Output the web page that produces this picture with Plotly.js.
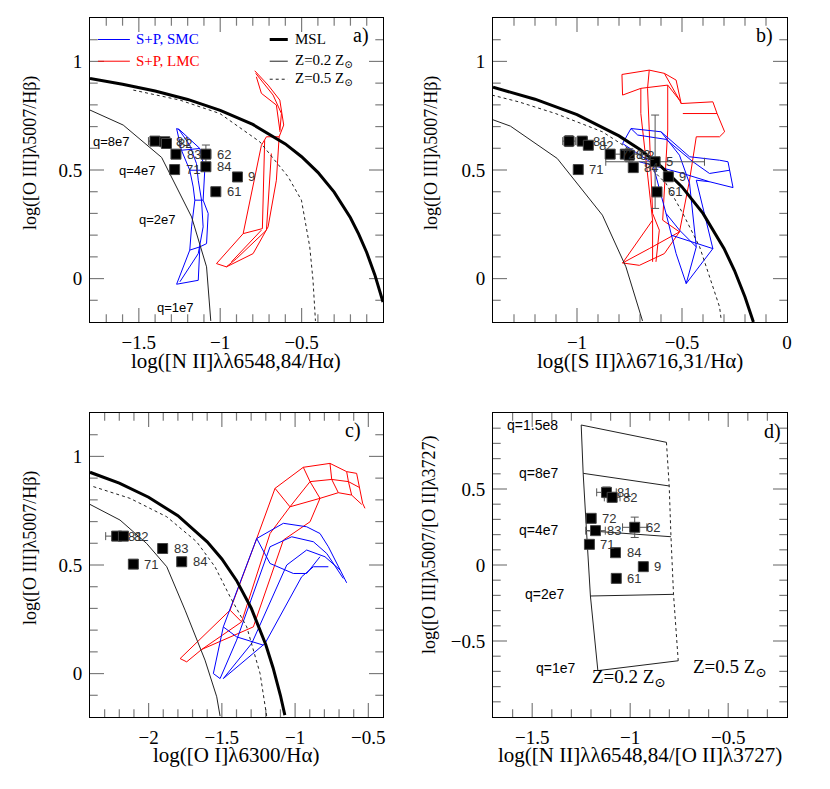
<!DOCTYPE html>
<html><head><meta charset="utf-8">
<script src="https://cdn.plot.ly/plotly-3.0.1.min.js"></script>
<style>html,body{margin:0;padding:0;background:#fff}#chart{width:830px;height:789px}</style>
</head><body><div id="chart"></div>
<script>
// ---------------- DATA ----------------
const ptsA_x = [-1.401,-1.340,-1.330,-1.272,-1.088,-1.280,-1.088,-0.894,-1.027];
const ptsA_y = [0.633,0.630,0.622,0.573,0.573,0.502,0.515,0.468,0.400];
const ptsA_xerr = [0.04,0.02,0.02,0.012,0.03,0.012,0.015,0.012,0.01];
const ptsA_yerr = [0.015,0.015,0.015,0.012,0.042,0.01,0.012,0.012,0.01];
const labA = ["","81","82","83","62","71","84","9","61"];

const ptsB_x = [-1.038,-0.975,-0.946,-0.842,-0.770,-0.751,-0.994,-0.732,-0.628,-0.565,-0.619];
const ptsB_y = [0.633,0.633,0.614,0.573,0.573,0.568,0.502,0.511,0.538,0.469,0.399];
const ptsB_xerr = [0.03,0.025,0.01,0.02,0.07,0.02,0.01,0.015,0.235,0.015,0.015];
const ptsB_yerr = [0.025,0.02,0.01,0.015,0.015,0.03,0.01,0.015,0.215,0.015,0.015];
const labB = ["","81","82","72","83","62","71","84","5","9","61"];

const ptsC_x = [-2.218,-2.172,-1.904,-2.104,-1.774];
const ptsC_y = [0.633,0.633,0.576,0.504,0.515];
const ptsC_xerr = [0.075,0.03,0.015,0.01,0.015];
const ptsC_yerr = [0.02,0.015,0.012,0.01,0.01];
const labC = ["81","82","83","71","84"];

const ptsD_x = [-1.121,-1.092,-1.199,-1.177,-0.977,-1.208,-1.075,-0.933,-1.071];
const ptsD_y = [0.478,0.445,0.307,0.226,0.248,0.136,0.081,-0.011,-0.088];
const ptsD_xerr = [0.05,0.04,0.02,0.05,0.062,0.02,0.015,0.02,0.015];
const ptsD_yerr = [0.035,0.02,0.015,0.02,0.067,0.015,0.02,0.015,0.02];
const labD = ["81","82","72","83","62","71","84","9","61"];

// Tick labels
const ticksAx = [-1.5,-1,-0.5], ticksBx = [-1,-0.5,0], ticksCx = [-2,-1.5,-1,-0.5], ticksDx = [-1.5,-1,-0.5];
const ticksY = [0,0.5,1], ticksDy = [-0.5,0,0.5];

// Maximum starburst line (MSL)
const mslA_x = [-1.8,-1.6,-1.4,-1.2,-1.0,-0.8,-0.6,-0.5,-0.4,-0.3,-0.2,-0.15,-0.1,-0.05,0.0];
const mslA_y = [0.921,0.895,0.864,0.825,0.775,0.710,0.620,0.561,0.489,0.398,0.280,0.206,0.120,0.017,-0.108];
const mslB_x = [-1.4,-1.2,-1.0,-0.8,-0.7,-0.6,-0.5,-0.4,-0.3,-0.25,-0.2,-0.16];
const mslB_y = [0.881,0.826,0.755,0.657,0.594,0.517,0.422,0.300,0.139,0.037,-0.085,-0.2];
const mslC_x = [-2.4,-2.2,-2.0,-1.8,-1.6,-1.5,-1.4,-1.3,-1.2,-1.15,-1.1,-1.07];
const mslC_y = [0.927,0.877,0.812,0.727,0.607,0.528,0.429,0.302,0.133,0.026,-0.101,-0.191];

// Photoionisation model grids, Z = 0.2 Zsun (solid) and Z = 0.5 Zsun (dotted)
const z02A_x = [-1.8,-1.596,-1.36,-1.176,-1.084,-1.058];
const z02A_y = [0.776,0.707,0.558,0.284,0.054,-0.195];
const z05A_x = [-1.534,-1.248,-1.002,-0.757,-0.583,-0.501,-0.45,-0.43,-0.415];
const z05A_y = [0.868,0.822,0.760,0.630,0.469,0.361,0.146,-0.008,-0.195];
const z02B_x = [-1.405,-1.317,-1.094,-0.879,-0.767,-0.696,-0.688];
const z02B_y = [0.733,0.702,0.553,0.292,0.054,-0.161,-0.195];
const z05B_x = [-1.405,-1.278,-1.102,-0.879,-0.719,-0.576,-0.496,-0.416,-0.321,-0.313];
const z05B_y = [0.845,0.814,0.760,0.676,0.576,0.438,0.300,0.146,-0.131,-0.192];
const z02C_x = [-2.400,-2.195,-2.013,-1.876,-1.751,-1.615,-1.535,-1.512];
const z02C_y = [0.779,0.707,0.599,0.492,0.292,0.062,-0.107,-0.196];
const z05C_x = [-2.377,-2.127,-1.876,-1.672,-1.547,-1.444,-1.330,-1.239,-1.194];
const z05C_y = [0.861,0.807,0.722,0.607,0.492,0.354,0.215,0.000,-0.196];
const qLabels = ["q=1.5e8","q=8e7","q=4e7","q=2e7","q=1e7"];
const z02D_x = [-1.250,-1.240,-1.223,-1.203,-1.165];
const z02D_y = [0.921,0.603,0.226,-0.204,-0.695];
const z05D_x = [-0.815,-0.801,-0.792,-0.779,-0.755];
const z05D_y = [0.807,0.520,0.186,-0.193,-0.630];

// Shock + photoionisation (S+P) grids, SMC (blue) and LMC (red)
const lmcA_x = [-0.788,-0.706,-0.634,-0.610,-0.638,-0.655,-0.706,-0.798,-0.962,-1.023,-0.859,-0.747,-0.716,-0.638,null,
 -0.782,-0.675,-0.624,-0.634,null,-0.778,-0.747,-0.655,-0.634,null,-0.727,-0.741,-0.859,null,
 -0.686,-0.716,-0.900,-0.962,null,-0.747,-0.931];
const lmcA_y = [0.957,0.891,0.822,0.707,0.653,0.453,0.238,0.115,0.054,0.069,0.207,0.614,0.653,0.653,null,
 0.945,0.845,0.760,0.676,null,0.929,0.853,0.799,0.684,null,0.637,0.230,0.207,null,
 0.576,0.223,0.092,0.054,null,0.223,0.077];
const smcA_x = [-1.268,-1.238,-1.187,-1.166,-1.156,-1.176,-1.187,-1.268,-1.135,-1.125,-1.084,-1.074,-1.105,-1.095,-1.125,-1.248,-1.268,null,
 -1.258,-1.187,-1.146,-1.135,-1.115,-1.105,-1.135,-1.248,null,-1.187,-1.095,null,-1.156,-1.105,null,-1.187,-1.125,null,-1.238,-1.125];
const smcA_y = [0.691,0.591,0.499,0.422,0.361,0.238,0.131,-0.026,-0.008,0.146,0.161,0.300,0.361,0.499,0.599,0.684,0.691,null,
 0.691,0.614,0.530,0.453,0.361,0.238,0.115,-0.015,null,0.499,0.499,null,0.361,0.361,null,0.131,0.146,null,0.591,0.599];

const lmcB_x = [-0.786,-0.656,-0.584,-0.528,-0.504,-0.353,-0.333,-0.297,-0.321,-0.432,-0.464,-0.512,-0.656,-0.783,-0.703,-0.584,-0.512,null,
 -0.786,-0.783,-0.696,-0.568,-0.512,-0.504,null,-0.656,-0.664,-0.640,-0.608,-0.624,null,-0.696,-0.696,-0.640,-0.640,null,
 -0.568,-0.568,-0.592,-0.512,null,-0.584,-0.552,-0.512,null,-0.496,-0.333,null,-0.640,-0.783];
const lmcB_y = [0.940,0.960,0.945,0.914,0.806,0.814,0.760,0.676,0.653,0.653,0.453,0.215,0.138,0.072,0.061,0.115,0.215,null,
 0.940,0.845,0.876,0.891,0.822,0.806,null,0.960,0.876,0.300,0.223,0.077,null,0.876,0.760,0.269,0.077,null,
 0.891,0.684,0.269,0.215,null,0.945,0.891,0.822,null,0.760,0.760,null,0.269,0.072];
const smcB_x = [-0.783,-0.743,-0.600,-0.464,-0.321,-0.281,-0.257,-0.369,-0.432,-0.353,-0.480,-0.528,-0.576,-0.640,-0.783,null,
 -0.743,-0.711,-0.576,-0.448,-0.369,-0.273,null,-0.703,-0.496,-0.369,null,-0.600,-0.512,-0.464,-0.432,-0.480,null,
 -0.552,-0.353,null,-0.576,-0.512,-0.432];
const smcB_y = [0.622,0.691,0.676,0.561,0.545,0.538,0.419,0.446,0.453,0.138,-0.023,0.115,0.300,0.530,0.622,null,
 0.691,0.661,0.641,0.538,0.484,0.499,null,0.538,0.484,0.446,null,0.676,0.568,0.438,0.146,-0.023,null,
 0.200,0.138,null,0.300,0.223,0.146];

const lmcC_x = [-1.785,-1.444,-1.262,-1.137,-0.944,-0.762,-0.648,-0.580,-0.539,-0.523,null,
 -1.740,-1.638,-1.365,-1.171,-1.035,-0.898,-0.750,-0.636,-0.561,null,
 -1.638,-1.285,-1.080,-0.898,-0.830,-0.705,-0.614,-0.545,null,
 -0.944,-0.898,-0.830,null,-0.762,-0.750,-0.705,null,-0.648,-0.636,-0.614,null,
 -1.137,-1.035,-0.830,null,-1.444,-1.365,null,-1.785,-1.740];
const lmcC_y = [0.069,0.292,0.622,0.853,0.950,0.968,0.930,0.922,0.784,0.761,null,
 0.054,0.111,0.238,0.645,0.768,0.884,0.894,0.884,0.857,null,
 0.111,0.215,0.615,0.699,0.807,0.833,0.822,0.779,null,
 0.950,0.884,0.807,null,0.968,0.894,0.833,null,0.930,0.884,0.822,null,
 0.853,0.768,0.807,null,0.292,0.238,null,0.069,0.054];
const smcC_x = [-1.512,-1.558,-1.490,-1.262,-1.080,-0.921,-0.830,-0.773,-0.648,null,
 -1.512,-1.399,-1.171,-1.023,-0.875,-0.784,-0.671,null,
 -1.490,-1.296,-1.057,-0.921,-0.796,-0.693,null,
 -1.490,-1.205,-0.955,-0.875,-0.773,null,
 -1.490,-1.399,-1.217,null,-1.262,-1.171,-1.012,-0.921,-0.830];
const smcC_y = [-0.023,0.000,0.215,0.622,0.692,0.676,0.645,0.584,0.418,null,
 -0.023,0.154,0.584,0.630,0.607,0.553,0.438,null,
 -0.023,0.139,0.500,0.569,0.538,0.477,null,
 -0.023,0.139,0.446,0.492,0.492,null,
 0.215,0.169,0.131,null,0.622,0.507,0.461,0.461,0.538];

// ---------------- BUILD ----------------
const SERIF = 'Liberation Serif, DejaVu Serif, serif';
const SANS = 'Liberation Sans, DejaVu Sans, sans-serif';
const W = 830, H = 789;
const XL = [90/W, 383/W], XR = [493/W, 787/W];
const YT = [1-322/H, 1-18/H], YB = [1-717/H, 1-413/H];
const R = {ax:[-1.8,0], bx:[-1.4,0], cx:[-2.4,-0.4], dx:[-1.7,-0.2], y:[-0.2,1.2], dy:[-1,1]};

const traces = [];
function line(x, y, xa, ya, color, width, dash) {
  traces.push({type:'scatter', mode:'lines', x:x, y:y, xaxis:xa, yaxis:ya,
    line:{color:color, width:width, dash:dash||'solid'}, connectgaps:false, hoverinfo:'skip'});
}
function pts(x, y, ex, ey, xa, ya) {
  traces.push({type:'scatter', mode:'markers', x:x, y:y, xaxis:xa, yaxis:ya,
    marker:{symbol:'square', size:10, color:'#000', line:{color:'#444', width:1}},
    error_x:{type:'data', array:ex, visible:true, color:'#555', thickness:1, width:4},
    error_y:{type:'data', array:ey, visible:true, color:'#555', thickness:1, width:4}});
}
// tick marks: line-shaped markers centred on the frame, clipped so only the inner half shows
function tickMarks(xa, ya, xRange, yRange) {
  const vx = [], vy = [], vs = [], hx = [], hy = [], hs = [];
  for (let k = Math.ceil(xRange[0]*10 + 1e-6); k <= Math.floor(xRange[1]*10 - 1e-6); k++) {
    const S = (k % 5 === 0) ? 20 : 11, v = k/10;
    vx.push(v, v); vy.push(yRange[0], yRange[1]); vs.push(S, S);
  }
  for (let k = Math.ceil(yRange[0]*10 + 1e-6); k <= Math.floor(yRange[1]*10 - 1e-6); k++) {
    const S = (k % 5 === 0) ? 20 : 11, v = k/10;
    hy.push(v, v); hx.push(xRange[0], xRange[1]); hs.push(S, S);
  }
  traces.push({type:'scatter', mode:'markers', x:vx, y:vy, xaxis:xa, yaxis:ya, cliponaxis:true, hoverinfo:'skip',
    marker:{symbol:'line-ns-open', size:vs, color:'#444', line:{color:'#444', width:1.2}}});
  traces.push({type:'scatter', mode:'markers', x:hx, y:hy, xaxis:xa, yaxis:ya, cliponaxis:true, hoverinfo:'skip',
    marker:{symbol:'line-ew-open', size:hs, color:'#444', line:{color:'#444', width:1.2}}});
}
tickMarks('x', 'y', R.ax, R.y);
tickMarks('x2', 'y2', R.bx, R.y);
tickMarks('x3', 'y3', R.cx, R.y);
tickMarks('x4', 'y4', R.dx, R.dy);

line(smcA_x, smcA_y, 'x', 'y', '#0000ff', 1);
line(lmcA_x, lmcA_y, 'x', 'y', '#ff0000', 1);
line(z02A_x, z02A_y, 'x', 'y', '#222', 1);
line(z05A_x, z05A_y, 'x', 'y', '#222', 1, 'dot');
line(mslA_x, mslA_y, 'x', 'y', '#000', 3);
pts(ptsA_x, ptsA_y, ptsA_xerr, ptsA_yerr, 'x', 'y');
line(lmcB_x, lmcB_y, 'x2', 'y2', '#ff0000', 1);
line(smcB_x, smcB_y, 'x2', 'y2', '#0000ff', 1);
line(z02B_x, z02B_y, 'x2', 'y2', '#222', 1);
line(z05B_x, z05B_y, 'x2', 'y2', '#222', 1, 'dot');
line(mslB_x, mslB_y, 'x2', 'y2', '#000', 3);
pts(ptsB_x, ptsB_y, ptsB_xerr, ptsB_yerr, 'x2', 'y2');
line(lmcC_x, lmcC_y, 'x3', 'y3', '#ff0000', 1);
line(smcC_x, smcC_y, 'x3', 'y3', '#0000ff', 1);
line(z02C_x, z02C_y, 'x3', 'y3', '#222', 1);
line(z05C_x, z05C_y, 'x3', 'y3', '#222', 1, 'dot');
line(mslC_x, mslC_y, 'x3', 'y3', '#000', 3);
pts(ptsC_x, ptsC_y, ptsC_xerr, ptsC_yerr, 'x3', 'y3');
line(z02D_x, z02D_y, 'x4', 'y4', '#222', 1);
line(z05D_x, z05D_y, 'x4', 'y4', '#222', 1, 'dot');
const qx = [], qy = [];
for (let i = 0; i < z02D_x.length; i++) { qx.push(z02D_x[i], z05D_x[i], null); qy.push(z02D_y[i], z05D_y[i], null); }
line(qx, qy, 'x4', 'y4', '#222', 1);
pts(ptsD_x, ptsD_y, ptsD_xerr, ptsD_yerr, 'x4', 'y4');

function ax(domain, range, anchor, tickvals) {
  return {domain:domain, range:range, anchor:anchor, showline:true, mirror:true,
    linecolor:'#000', linewidth:1, ticks:'', tickmode:'array', tickvals:tickvals,
    showgrid:false, zeroline:false, ticklabelstandoff:3,
    tickfont:{family:SERIF, size:19, color:'#000'}, fixedrange:true};
}

const ann = [];
function txt(t, x, y, xr, yr, size, fam, anchor, color, extra) {
  ann.push(Object.assign({text:t, x:x, y:y, xref:xr, yref:yr, showarrow:false,
    xanchor:anchor||'left', yanchor:'middle', font:{family:fam, size:size, color:color||'#000'}}, extra||{}));
}
function labels(xs, ys, labs, xr, yr) {
  for (let i = 0; i < xs.length; i++) if (labs[i]) txt(labs[i], xs[i], ys[i], xr, yr, 13, SANS, 'left', '#333', {xshift:9});
}
labels(ptsA_x, ptsA_y, labA, 'x', 'y');
labels(ptsB_x, ptsB_y, labB, 'x2', 'y2');
labels(ptsC_x, ptsC_y, labC, 'x3', 'y3');
labels(ptsD_x, ptsD_y, labD, 'x4', 'y4');
txt('q=8e7', -1.795, 0.633, 'x', 'y', 13, SANS);
txt('q=4e7', -1.636, 0.499, 'x', 'y', 13, SANS);
txt('q=2e7', -1.513, 0.272, 'x', 'y', 13, SANS);
txt('q=1e7', -1.401, -0.134, 'x', 'y', 13, SANS);
const qlx = [-1.638,-1.578,-1.578,-1.545,-1.493], qly = [0.921,0.607,0.230,-0.191,-0.680];
for (let i = 0; i < qLabels.length; i++) txt(qLabels[i], qlx[i], qly[i], 'x4', 'y4', 14, SANS);
txt('Z=0.2 Z<sub>⊙</sub>', -1.203, -0.745, 'x4', 'y4', 19, SERIF);
txt('Z=0.5 Z<sub>⊙</sub>', -0.690, -0.680, 'x4', 'y4', 19, SERIF);
txt('a)', -0.137, 1.12, 'x', 'y', 20, SERIF, 'center');
txt('b)', -0.105, 1.12, 'x2', 'y2', 20, SERIF, 'center');
txt('c)', -0.605, 1.12, 'x3', 'y3', 20, SERIF, 'center');
txt('d)', -0.274, 0.877, 'x4', 'y4', 20, SERIF, 'center');
txt('S+P, SMC', -1.527, 1.101, 'x', 'y', 15, SERIF, 'left', '#0000ff');
txt('S+P, LMC', -1.527, 1.001, 'x', 'y', 15, SERIF, 'left', '#ff0000');
txt('MSL', -0.555, 1.101, 'x', 'y', 15, SERIF);
txt('Z=0.2 Z<sub>⊙</sub>', -0.555, 1.001, 'x', 'y', 15, SERIF);
txt('Z=0.5 Z<sub>⊙</sub>', -0.555, 0.918, 'x', 'y', 15, SERIF);
const shapes = [
  {type:'line', xref:'x', yref:'y', x0:-1.751, x1:-1.555, y0:1.101, y1:1.101, line:{color:'#0000ff', width:1}},
  {type:'line', xref:'x', yref:'y', x0:-1.751, x1:-1.555, y0:1.001, y1:1.001, line:{color:'#ff0000', width:1}},
  {type:'line', xref:'x', yref:'y', x0:-0.696, x1:-0.585, y0:1.101, y1:1.101, line:{color:'#000', width:3}},
  {type:'line', xref:'x', yref:'y', x0:-0.696, x1:-0.585, y0:1.001, y1:1.001, line:{color:'#222', width:1}},
  {type:'line', xref:'x', yref:'y', x0:-0.696, x1:-0.585, y0:0.918, y1:0.918, line:{color:'#222', width:1, dash:'dot'}}
];
function title(t, x, y, rot, size) {
  ann.push({text:t, x:x, y:y, xref:'paper', yref:'paper', showarrow:false, xanchor:'center', yanchor:'middle',
    textangle:rot||0, font:{family:SERIF, size:size||19, color:'#000'}});
}
title('log([N II]λλ6548,84/Hα)', 236/W, 1-361/H, 0, 21);
title('log([S II]λλ6716,31/Hα)', 640/W, 1-361/H, 0, 21);
title('log([O I]λ6300/Hα)', 236/W, 1-755/H, 0, 21);
title('log([N II]λλ6548,84/[O II]λ3727)', 640/W, 1-755/H, 0, 21);
title('log([O III]λ5007/Hβ)', 30/W, 1-153/H, -90, 18);
title('log([O III]λ5007/Hβ)', 431/W, 1-153/H, -90, 18);
title('log([O III]λ5007/Hβ)', 30/W, 1-548/H, -90, 18);
title('log([O III]λ5007/[O II]λ3727)', 429/W, 1-545/H, -90, 18);

const layout = {
  width:W, height:H, margin:{l:0, r:0, t:0, b:0}, paper_bgcolor:'#fff', plot_bgcolor:'#fff',
  showlegend:false,
  xaxis: ax(XL, R.ax, 'y', ticksAx),
  yaxis: ax(YT, R.y, 'x', ticksY),
  xaxis2: ax(XR, R.bx, 'y2', ticksBx),
  yaxis2: ax(YT, R.y, 'x2', ticksY),
  xaxis3: ax(XL, R.cx, 'y3', ticksCx),
  yaxis3: ax(YB, R.y, 'x3', ticksY),
  xaxis4: ax(XR, R.dx, 'y4', ticksDx),
  yaxis4: ax(YB, R.dy, 'x4', ticksDy),
  annotations: ann, shapes: shapes
};
Plotly.newPlot('chart', traces, layout, {displayModeBar:false});
</script></body></html>
